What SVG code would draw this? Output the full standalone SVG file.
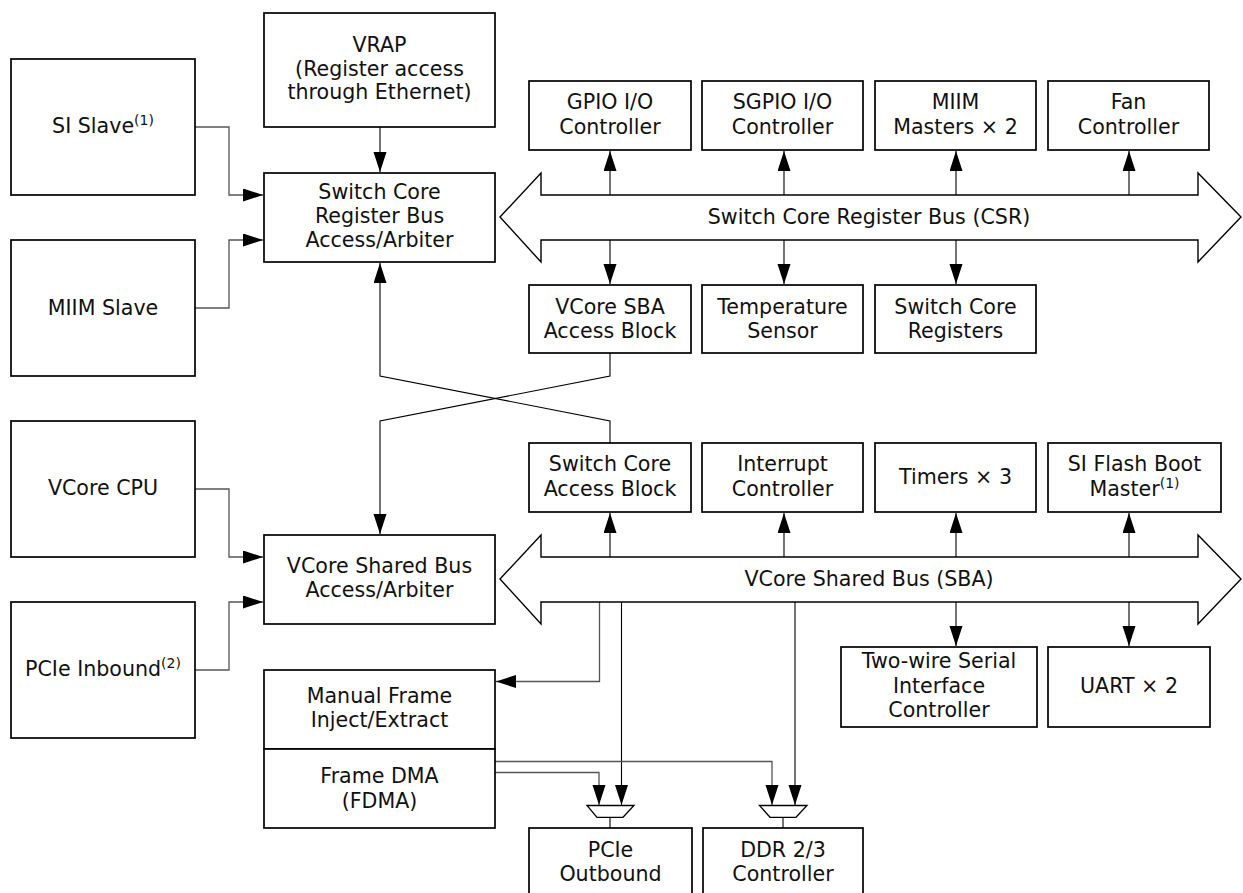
<svg xmlns="http://www.w3.org/2000/svg" width="1243" height="893" viewBox="0 0 1243 893">
<style>
.box{fill:#fff;stroke:#000;stroke-width:1.7}
.bus{fill:#fff;stroke:#000;stroke-width:1.4}
.t{font-family:"DejaVu Sans","Verdana",sans-serif;font-size:20.6px;fill:#111;text-anchor:middle}
.sup{font-size:14px}
.ln{fill:none;stroke:#000;stroke-width:1.1}
.gl{fill:none;stroke:#555;stroke-width:1.3}
.mux{fill:#fff;stroke:#000;stroke-width:1.3}
</style>
<defs>
<marker id="ah" markerUnits="userSpaceOnUse" markerWidth="21" markerHeight="14" refX="20" refY="6.5" orient="auto">
<path d="M0,0 L20,6.5 L0,13 z" fill="#000"/>
</marker>
</defs>
<rect width="1243" height="893" fill="#fff"/>

<g id="connectors">
<polyline class="gl" points="195,127 229,127 229,195 263,195" marker-end="url(#ah)"/>
<polyline class="gl" points="195,308 229,308 229,240 263,240" marker-end="url(#ah)"/>
<polyline class="gl" points="195,489 229,489 229,557 263,557" marker-end="url(#ah)"/>
<polyline class="gl" points="195,670 229,670 229,602 263,602" marker-end="url(#ah)"/>
<line class="ln" x1="380" y1="127" x2="380" y2="172" marker-end="url(#ah)"/>
<line class="ln" x1="610" y1="195" x2="610" y2="151" marker-end="url(#ah)"/>
<line class="ln" x1="784" y1="195" x2="784" y2="151" marker-end="url(#ah)"/>
<line class="ln" x1="956" y1="195" x2="956" y2="151" marker-end="url(#ah)"/>
<line class="ln" x1="1129" y1="195" x2="1129" y2="151" marker-end="url(#ah)"/>
<line class="ln" x1="610" y1="240" x2="610" y2="284" marker-end="url(#ah)"/>
<line class="ln" x1="784" y1="240" x2="784" y2="284" marker-end="url(#ah)"/>
<line class="ln" x1="956" y1="240" x2="956" y2="284" marker-end="url(#ah)"/>
<polyline class="ln" points="610,353 610,376 380,421 380,534" marker-end="url(#ah)"/>
<polyline class="ln" points="610,443 610,421 380,376 380,263" marker-end="url(#ah)"/>
<line class="ln" x1="610" y1="557" x2="610" y2="513" marker-end="url(#ah)"/>
<line class="ln" x1="784" y1="557" x2="784" y2="513" marker-end="url(#ah)"/>
<line class="ln" x1="956" y1="557" x2="956" y2="513" marker-end="url(#ah)"/>
<line class="ln" x1="1129" y1="557" x2="1129" y2="513" marker-end="url(#ah)"/>
<line class="ln" x1="956" y1="602" x2="956" y2="646" marker-end="url(#ah)"/>
<line class="ln" x1="1129" y1="602" x2="1129" y2="646" marker-end="url(#ah)"/>
<polyline class="gl" points="599.5,602 599.5,681.5 496,681.5" marker-end="url(#ah)"/>
<line class="ln" x1="621.5" y1="602" x2="621.5" y2="805" marker-end="url(#ah)"/>
<line class="ln" x1="795" y1="602" x2="795" y2="805" marker-end="url(#ah)"/>
<polyline class="gl" points="495,761.5 772,761.5 772,805" marker-end="url(#ah)"/>
<polyline class="gl" points="495,772.5 599,772.5 599,805" marker-end="url(#ah)"/>
<line class="ln" x1="610" y1="817" x2="610" y2="828"/>
<line class="ln" x1="783" y1="817" x2="783" y2="828"/>
</g>

<g id="csr-bus">
<polygon class="bus" points="500,217 541,173 541,195 1198,195 1198,173 1241,217 1198,262 1198,240 541,240 541,262"/>
<text class="t" x="869" y="224">Switch Core Register Bus (CSR)</text>
</g>
<g id="sba-bus">
<polygon class="bus" points="500,579 541,535 541,557 1198,557 1198,535 1241,579 1198,624 1198,602 541,602 541,624"/>
<text class="t" x="869" y="586">VCore Shared Bus (SBA)</text>
</g>

<g id="mux-pcie"><polygon class="mux" points="587,805.5 634,805.5 623,817.3 597,817.3"/></g>
<g id="mux-ddr"><polygon class="mux" points="759.5,805.5 807,805.5 796,817.3 770,817.3"/></g>

<g id="si-slave"><rect class="box" x="11" y="59" width="184" height="136"/>
<text class="t" x="103" y="133">SI Slave<tspan class="sup" dy="-8">(1)</tspan></text></g>
<g id="miim-slave"><rect class="box" x="11" y="240" width="184" height="136"/>
<text class="t" x="103" y="315">MIIM Slave</text></g>
<g id="vcore-cpu"><rect class="box" x="11" y="421" width="184" height="136"/>
<text class="t" x="103" y="495">VCore CPU</text></g>
<g id="pcie-inbound"><rect class="box" x="11" y="602" width="184" height="136"/>
<text class="t" x="103" y="676">PCIe Inbound<tspan class="sup" dy="-8">(2)</tspan></text></g>

<g id="vrap"><rect class="box" x="264" y="13" width="231" height="114"/>
<text class="t" x="379.5" y="52">VRAP</text>
<text class="t" x="379.5" y="76">(Register access</text>
<text class="t" x="379.5" y="99">through Ethernet)</text></g>
<g id="sc-arbiter"><rect class="box" x="264" y="173" width="231" height="89"/>
<text class="t" x="379.5" y="199">Switch Core</text>
<text class="t" x="379.5" y="223">Register Bus</text>
<text class="t" x="379.5" y="247">Access/Arbiter</text></g>
<g id="vc-arbiter"><rect class="box" x="264" y="535" width="231" height="89"/>
<text class="t" x="379.5" y="573">VCore Shared Bus</text>
<text class="t" x="379.5" y="597">Access/Arbiter</text></g>
<g id="manual-frame"><rect class="box" x="264" y="670" width="231" height="79"/>
<text class="t" x="379.5" y="703">Manual Frame</text>
<text class="t" x="379.5" y="727">Inject/Extract</text></g>
<g id="fdma"><rect class="box" x="264" y="749" width="231" height="79"/>
<text class="t" x="379.5" y="783">Frame DMA</text>
<text class="t" x="379.5" y="808">(FDMA)</text></g>

<g id="gpio"><rect class="box" x="529" y="81" width="162" height="69"/>
<text class="t" x="610" y="109">GPIO I/O</text><text class="t" x="610" y="134">Controller</text></g>
<g id="sgpio"><rect class="box" x="702" y="81" width="161" height="69"/>
<text class="t" x="782.5" y="109">SGPIO I/O</text><text class="t" x="782.5" y="134">Controller</text></g>
<g id="miim-masters"><rect class="box" x="875" y="81" width="161" height="69"/>
<text class="t" x="955.5" y="109">MIIM</text><text class="t" x="955.5" y="134">Masters × 2</text></g>
<g id="fan"><rect class="box" x="1048" y="81" width="161" height="69"/>
<text class="t" x="1128.5" y="109">Fan</text><text class="t" x="1128.5" y="134">Controller</text></g>

<g id="vcore-sba-access"><rect class="box" x="529" y="285" width="162" height="68"/>
<text class="t" x="610" y="314">VCore SBA</text><text class="t" x="610" y="338">Access Block</text></g>
<g id="temp-sensor"><rect class="box" x="702" y="285" width="161" height="68"/>
<text class="t" x="782.5" y="314">Temperature</text><text class="t" x="782.5" y="338">Sensor</text></g>
<g id="sc-registers"><rect class="box" x="875" y="285" width="161" height="68"/>
<text class="t" x="955.5" y="314">Switch Core</text><text class="t" x="955.5" y="338">Registers</text></g>

<g id="sc-access"><rect class="box" x="529" y="443" width="162" height="69"/>
<text class="t" x="610" y="471">Switch Core</text><text class="t" x="610" y="496">Access Block</text></g>
<g id="interrupt"><rect class="box" x="702" y="443" width="161" height="69"/>
<text class="t" x="782.5" y="471">Interrupt</text><text class="t" x="782.5" y="496">Controller</text></g>
<g id="timers"><rect class="box" x="875" y="443" width="161" height="69"/>
<text class="t" x="955.5" y="484">Timers × 3</text></g>
<g id="si-flash"><rect class="box" x="1048" y="443" width="173" height="69"/>
<text class="t" x="1134.5" y="471">SI Flash Boot</text>
<text class="t" x="1134.5" y="496">Master<tspan class="sup" dy="-8">(1)</tspan></text></g>

<g id="two-wire"><rect class="box" x="841" y="647" width="196" height="80"/>
<text class="t" x="939" y="668">Two-wire Serial</text>
<text class="t" x="939" y="693">Interface</text>
<text class="t" x="939" y="717">Controller</text></g>
<g id="uart"><rect class="box" x="1048" y="647" width="162" height="80"/>
<text class="t" x="1129" y="693">UART × 2</text></g>

<g id="pcie-outbound"><rect class="box" x="529" y="828" width="163" height="70"/>
<text class="t" x="610.5" y="857">PCIe</text><text class="t" x="610.5" y="881">Outbound</text></g>
<g id="ddr"><rect class="box" x="703" y="828" width="160" height="70"/>
<text class="t" x="783" y="857">DDR 2/3</text><text class="t" x="783" y="881">Controller</text></g>
</svg>
